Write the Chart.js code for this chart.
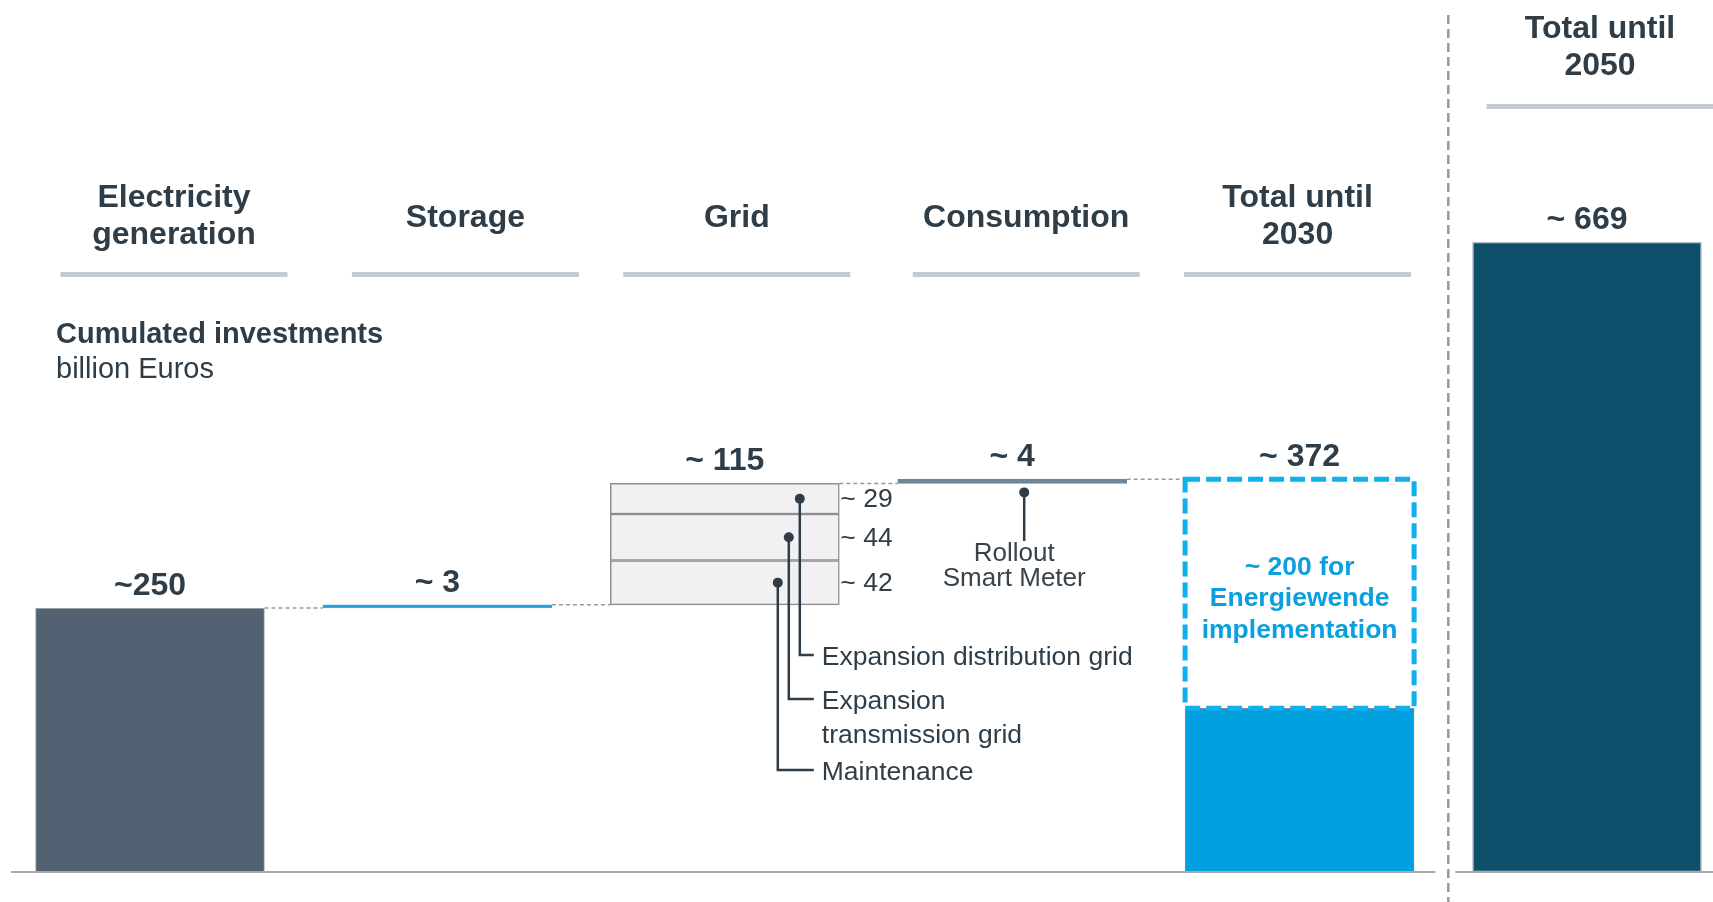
<!DOCTYPE html>
<html>
<head>
<meta charset="utf-8">
<title>Cumulated investments</title>
<script src="https://cdn.jsdelivr.net/npm/chart.js@4.4.1/dist/chart.umd.min.js"></script>
<style>
  html, body { margin: 0; padding: 0; background: #fff; overflow: hidden; }
  #wrap { width: 1713px; height: 902px; }
</style>
</head>
<body>
<div id="wrap"><canvas id="myChart" width="1713" height="902"></canvas></div>
<script>
// column headers
var categories = [['Electricity', 'generation'], ['Storage'], ['Grid'], ['Consumption'], ['Total until', '2030'], ['Total until', '2050']];
// waterfall steps until 2030 (billion Euros)
var steps = [250, 3, 115, 4];
var valueLabels = ['~250', '~ 3', '~ 115', '~ 4', '~ 372', '~ 669'];
var total2030 = 372;
var total2030Solid = 155;   // filled part of the 2030 bar
var energiewendeText = ['~ 200 for', 'Energiewende', 'implementation'];
var total2050 = 669;
// grid split, bottom to top
var gridNames = [['Maintenance'], ['Expansion', 'transmission grid'], ['Expansion distribution grid']];
var gridValues = [42, 44, 29];
var gridLabels = ['~ 42', '~ 44', '~ 29'];
var consumptionNote = ['Rollout', 'Smart Meter'];

var FONT = '"Liberation Sans", Arial, Helvetica, sans-serif';
var DARK = '#2e3d48';
var BAR_W = 229;

// start of every waterfall step
var starts = [];
var acc = 0;
for (var i = 0; i < steps.length; i++) {
  starts.push(acc);
  acc += steps[i];
}

var mainData = [
  [starts[0], starts[0] + steps[0]],
  [starts[1], starts[1] + steps[1]],
  null,
  [starts[3], starts[3] + steps[3]],
  [0, total2030Solid],
  null
];

var gridSets = [];
var g = starts[2];
for (var k = 0; k < gridValues.length; k++) {
  gridSets.push({
    label: gridNames[k].join(' '),
    data: [null, null, [g, g + gridValues[k]], null, null, null],
    backgroundColor: '#f1f1f3',
    borderColor: '#8e8e8e',
    borderWidth: 1.5
  });
  g += gridValues[k];
}

function txt(ctx, s, x, y, font, color, align) {
  ctx.font = font;
  ctx.fillStyle = color;
  ctx.textAlign = align || 'center';
  ctx.textBaseline = 'middle';
  ctx.fillText(s, x, y);
}

var decorPlugin = {
  id: 'decor',
  afterDatasetsDraw: function(chart) {
    var ctx = chart.ctx;
    var xs = chart.scales.x, ys = chart.scales.y, y2 = chart.scales.y2;
    var half = BAR_W / 2;
    function cx(i) { return xs.getPixelForValue(i); }
    ctx.save();

    // headers with underline
    var headShift = [24, 28, 12, 14, -2, 13];
    for (var i = 0; i < categories.length; i++) {
      var hx = cx(i) + headShift[i];
      var lines = categories[i];
      var lineY = i == 5 ? 104 : 272;
      ctx.fillStyle = '#c4cbd2';
      ctx.fillRect(hx - half + 1, lineY, BAR_W - 2, 5);
      var ty = i == 5 ? [29, 66] : (lines.length == 2 ? [198, 235] : [218]);
      for (var l = 0; l < lines.length; l++) {
        txt(ctx, lines[l], hx, ty[l], 'bold 32px ' + FONT, DARK);
      }
    }

    txt(ctx, 'Cumulated investments', 56, 335, 'bold 29px ' + FONT, DARK, 'left');
    txt(ctx, 'billion Euros', 56, 370, '29px ' + FONT, DARK, 'left');

    // dotted connectors between the waterfall steps
    var ends = [];
    var a = 0;
    for (var s = 0; s < steps.length; s++) { a += steps[s]; ends.push(a); }
    ctx.strokeStyle = '#9a9a9a';
    ctx.lineWidth = 1.5;
    ctx.setLineDash([4, 3]);
    for (var c = 0; c < ends.length; c++) {
      var yy = ys.getPixelForValue(ends[c]);
      ctx.beginPath();
      ctx.moveTo(cx(c) + half, yy);
      ctx.lineTo(cx(c + 1) - half, yy);
      ctx.stroke();
    }

    // dashed outline for the Energiewende part of 2030
    var dm = chart.getDatasetMeta(4).data[4];
    ctx.strokeStyle = '#0fb0ec';
    ctx.lineWidth = 5;
    ctx.setLineDash([15, 6]);
    ctx.strokeRect(dm.x - dm.width / 2, dm.y, dm.width, dm.base - dm.y);
    ctx.setLineDash([]);
    var mid = (dm.y + dm.base) / 2 + 5;
    for (var e = 0; e < energiewendeText.length; e++) {
      txt(ctx, energiewendeText[e], dm.x, mid + (e - 1) * 31.5, 'bold 26.5px ' + FONT, '#0aa0df');
    }

    // value labels above bars
    var tops = [ends[0], ends[1], ends[2], ends[3], total2030];
    for (var v = 0; v < tops.length; v++) {
      txt(ctx, valueLabels[v], cx(v), ys.getPixelForValue(tops[v]) - 22, 'bold 32px ' + FONT, DARK);
    }
    txt(ctx, valueLabels[5], cx(5), y2.getPixelForValue(total2050) - 22, 'bold 32px ' + FONT, DARK);

    // grid split labels + leader lines
    var gx = cx(2);
    var dotDx = [53, 64, 75];
    var endY = [770, 699, 655];
    ctx.lineWidth = 2.5;
    for (var p = 0; p < gridValues.length; p++) {
      var el = chart.getDatasetMeta(1 + p).data[2];
      var my = (el.y + el.base) / 2;
      txt(ctx, gridLabels[p], el.x + el.width / 2 + 1, my + 1, '26.5px ' + FONT, DARK, 'left');
      ctx.beginPath();
      ctx.moveTo(gx + dotDx[p], my);
      ctx.lineTo(gx + dotDx[p], endY[p]);
      ctx.lineTo(gx + 89, endY[p]);
      ctx.strokeStyle = DARK;
      ctx.stroke();
      ctx.beginPath();
      ctx.arc(gx + dotDx[p], my, 5, 0, Math.PI * 2);
      ctx.fillStyle = DARK;
      ctx.fill();
      var names = gridNames[p];
      for (var n = 0; n < names.length; n++) {
        txt(ctx, names[n], gx + 97, endY[p] + 3 + n * 34, '26.5px ' + FONT, DARK, 'left');
      }
    }

    // rollout smart meter note
    var cc = cx(3);
    var dotY = ys.getPixelForValue(starts[3]) + 9;
    ctx.strokeStyle = DARK;
    ctx.beginPath();
    ctx.moveTo(cc + 12, dotY);
    ctx.lineTo(cc + 12, 541);
    ctx.stroke();
    ctx.beginPath();
    ctx.arc(cc + 12, dotY, 5, 0, Math.PI * 2);
    ctx.fillStyle = DARK;
    ctx.fill();
    txt(ctx, consumptionNote[0], cc + 2, 554, '26px ' + FONT, '#38434b');
    txt(ctx, consumptionNote[1], cc + 2, 579, '26px ' + FONT, '#38434b');

    // baseline and divider
    var dx = (cx(4) + cx(5)) / 2 + 5;
    var y0 = ys.getPixelForValue(0);
    ctx.strokeStyle = '#a9a9a9';
    ctx.lineWidth = 2;
    ctx.beginPath();
    ctx.moveTo(11, y0); ctx.lineTo(dx - 13, y0);
    ctx.moveTo(dx + 7, y0); ctx.lineTo(chart.width, y0);
    ctx.stroke();
    ctx.strokeStyle = '#8d9ca8';
    ctx.lineWidth = 2.5;
    ctx.setLineDash([9, 5]);
    ctx.beginPath();
    ctx.moveTo(dx, 15);
    ctx.lineTo(dx, chart.height);
    ctx.stroke();
    ctx.restore();
  }
};

var ctx = document.getElementById('myChart').getContext('2d');
var myChart = new Chart(ctx, {
  type: 'bar',
  data: {
    labels: categories.map(function(c) { return c.join(' '); }),
    datasets: [{
      label: 'Investments',
      data: mainData,
      backgroundColor: ['#526273', '#1a9ad7', null, '#6e8796', '#009fdf', null],
      borderColor: ['#b3b3b3', '#5aa9d6', null, '#6e8796', '#8c8c8c', null],
      borderWidth: 1
    }].concat(gridSets).concat([{
      label: 'Energiewende implementation',
      data: [null, null, null, null, [total2030Solid, total2030], null],
      backgroundColor: '#ffffff',
      borderWidth: 0
    }, {
      label: 'Total until 2050',
      data: [null, null, null, null, null, [0, total2050]],
      yAxisID: 'y2',
      backgroundColor: '#0e4f6b',
      borderColor: '#b4c0c9',
      borderWidth: 1.5
    }])
  },
  options: {
    responsive: false,
    animation: false,
    layout: { padding: { left: 150, right: 126, top: 80, bottom: 30 } },
    datasets: {
      bar: { barThickness: BAR_W, grouped: false, clip: false, borderSkipped: false }
    },
    plugins: {
      legend: { display: false },
      tooltip: { enabled: false }
    },
    scales: {
      x: { offset: false, display: false },
      y: { min: 0, max: 750, display: false },
      y2: { min: 0, max: 841, display: false }
    }
  },
  plugins: [decorPlugin]
});
</script>
</body>
</html>
